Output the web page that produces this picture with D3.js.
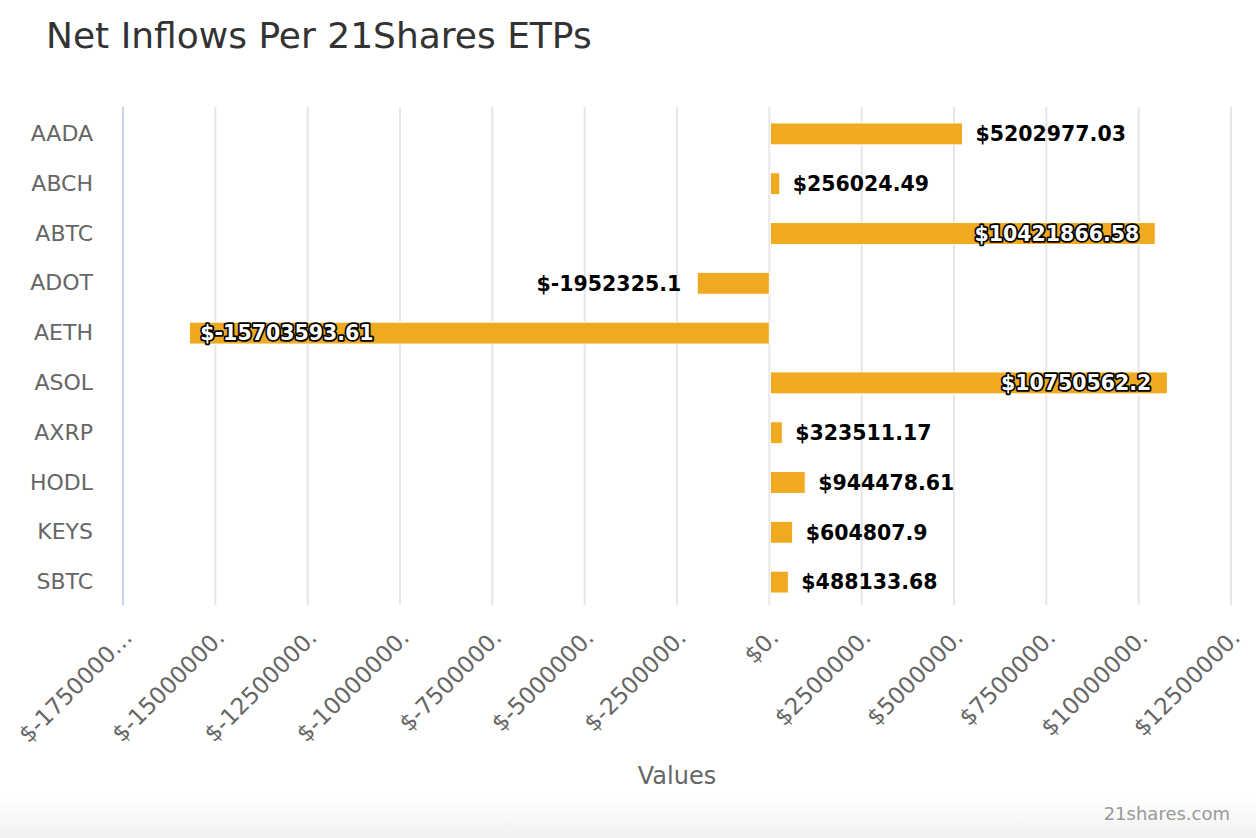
<!DOCTYPE html>
<html>
<head>
<meta charset="utf-8">
<script src="https://cdn.jsdelivr.net/npm/d3@7"></script>
<style>
  body { margin: 0; background: #fff; }
  svg { display: block; font-family: "DejaVu Sans", sans-serif; }
</style>
</head>
<body>
<div id="chart"></div>
<script>
// Data
const categories = ["AADA", "ABCH", "ABTC", "ADOT", "AETH", "ASOL", "AXRP", "HODL", "KEYS", "SBTC"];
const values = [5202977.03, 256024.49, 10421866.58, -1952325.1, -15703593.61, 10750562.2, 323511.17, 944478.61, 604807.9, 488133.68];
const tickValues = [-17500000, -15000000, -12500000, -10000000, -7500000, -5000000, -2500000, 0, 2500000, 5000000, 7500000, 10000000, 12500000];
const tickLabels = ["$-1750000\u2026", "$-15000000.", "$-12500000.", "$-10000000.", "$-7500000.", "$-5000000.", "$-2500000.", "$0.", "$2500000.", "$5000000.", "$7500000.", "$10000000.", "$12500000."];

const width = 1256, height = 838;
const margin = { top: 109, right: 25, bottom: 231, left: 123 };
const innerW = width - margin.left - margin.right;
const innerH = height - margin.top - margin.bottom;

const svg = d3.select("#chart").append("svg")
  .attr("width", width)
  .attr("height", height);

// bottom shading
const defs = svg.append("defs");
const grad = defs.append("linearGradient").attr("id", "foot").attr("x1", 0).attr("x2", 0).attr("y1", 0).attr("y2", 1);
grad.append("stop").attr("offset", 0).attr("stop-color", "#ffffff");
grad.append("stop").attr("offset", 1).attr("stop-color", "#f1f1f1");
svg.append("rect").attr("x", 0).attr("y", 798).attr("width", width).attr("height", 40).attr("fill", "url(#foot)");

// Title
svg.append("text")
  .attr("x", 46).attr("y", 48)
  .attr("fill", "#333")
  .attr("font-size", "36px")
  .text("Net Inflows Per 21Shares ETPs");

const x = d3.scaleLinear().domain([-17500000, 12500000]).range([0, innerW]);
const y = d3.scaleBand().domain(categories).range([0, innerH]).paddingInner(0.56).paddingOuter(0.28);

const g = svg.append("g").attr("transform", `translate(${margin.left},${margin.top})`);

// grid lines
g.append("g")
  .selectAll("line")
  .data(tickValues.slice(1))
  .join("line")
  .attr("x1", d => x(d)).attr("x2", d => x(d))
  .attr("y1", -2).attr("y2", innerH - 2)
  .attr("stroke", "#e6e6e6")
  .attr("stroke-width", 2);

// y axis line
g.append("line")
  .attr("x1", 0).attr("x2", 0)
  .attr("y1", -2).attr("y2", innerH - 2)
  .attr("stroke", "#ccd6eb")
  .attr("stroke-width", 2);

// x tick labels
const xAxis = d3.axisBottom(x)
  .tickValues(tickValues)
  .tickSize(0)
  .tickFormat((d, i) => tickLabels[i]);

const xg = g.append("g")
  .attr("transform", `translate(0,${innerH})`)
  .call(xAxis);
xg.select(".domain").remove();
xg.selectAll("text")
  .attr("font-family", "DejaVu Sans, sans-serif")
  .attr("font-size", "23px")
  .attr("fill", "#666")
  .attr("text-anchor", "end")
  .attr("dy", null)
  .attr("y", 0)
  .attr("transform", "translate(10,32) rotate(-45)");

// x axis title
svg.append("text")
  .attr("x", margin.left + innerW / 2)
  .attr("y", 784)
  .attr("text-anchor", "middle")
  .attr("fill", "#666")
  .attr("font-size", "24px")
  .text("Values");

// y axis labels
const yAxis = d3.axisLeft(y).tickSize(0).tickPadding(30);
const yg = g.append("g").call(yAxis);
yg.select(".domain").remove();
yg.selectAll("text")
  .attr("font-family", "DejaVu Sans, sans-serif")
  .attr("font-size", "22px")
  .attr("fill", "#666");

// bars
const barH = y.bandwidth();
g.append("g")
  .selectAll("rect")
  .data(values)
  .join("rect")
  .attr("x", d => d >= 0 ? x(0) + 1 : x(d))
  .attr("y", (d, i) => y(categories[i]))
  .attr("width", d => Math.abs(x(d) - x(0)))
  .attr("height", barH)
  .attr("fill", "#efaa21")
  .attr("stroke", "#fff")
  .attr("stroke-width", 1);

// data labels
const labels = g.append("g")
  .selectAll("text")
  .data(values)
  .join("text")
  .attr("y", (d, i) => y(categories[i]) + barH / 2)
  .attr("dy", "0.36em")
  .attr("font-size", "20.5px")
  .attr("font-weight", "bold")
  .text(d => "$" + d);

labels.each(function (d) {
  const t = d3.select(this);
  const w = this.getComputedTextLength();
  const end = x(d);
  if (d >= 0) {
    if (end + 14 + w > innerW) {
      t.attr("x", end - 15).attr("text-anchor", "end").attr("inside", 1);
    } else {
      t.attr("x", end + 14).attr("text-anchor", "start");
    }
  } else {
    if (end - 16 - w < 0) {
      t.attr("x", end + 11).attr("text-anchor", "start").attr("inside", 1);
    } else {
      t.attr("x", end - 16).attr("text-anchor", "end");
    }
  }
  if (t.attr("inside")) {
    t.attr("fill", "#fff")
      .attr("stroke", "#000")
      .attr("stroke-width", 3.5)
      .attr("stroke-linejoin", "round")
      .attr("paint-order", "stroke");
  } else {
    t.attr("fill", "#000");
  }
});

// credits
svg.append("text")
  .attr("x", 1230).attr("y", 820)
  .attr("text-anchor", "end")
  .attr("fill", "#999")
  .attr("font-size", "18px")
  .text("21shares.com");
</script>
</body>
</html>
